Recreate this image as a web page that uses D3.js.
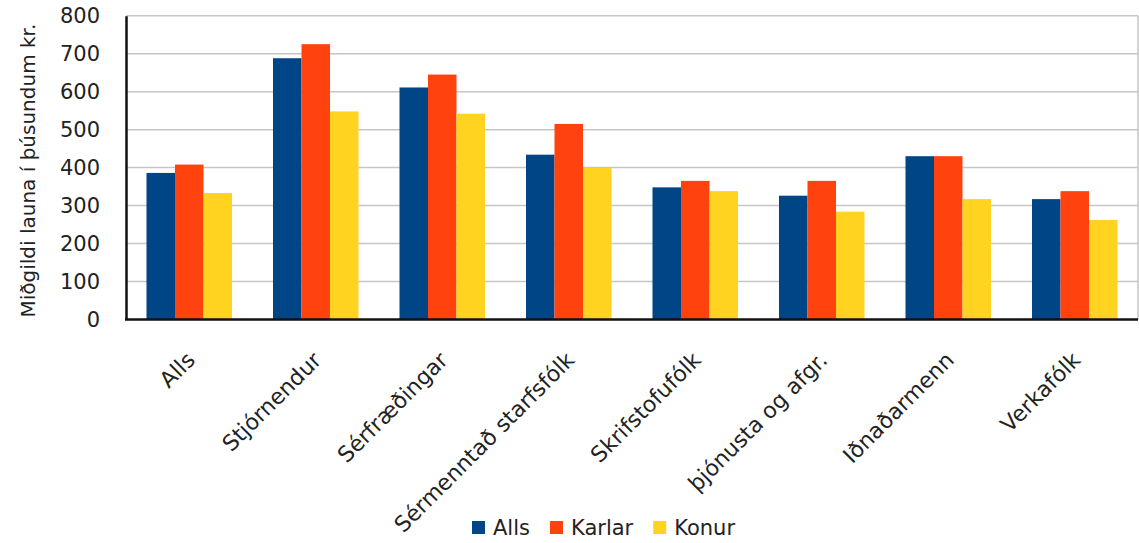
<!DOCTYPE html>
<html><head><meta charset="utf-8">
<script src="https://cdn.jsdelivr.net/npm/d3@7"></script>
<style>html,body{margin:0;padding:0;background:#fff;}svg{display:block;}</style>
</head><body><div id="chart"></div>
<script>
const categories = ["Alls","Stjórnendur","Sérfræðingar","Sérmenntað starfsfólk","Skrifstofufólk","þjónusta og afgr.","Iðnaðarmenn","Verkafólk"];
const seriesNames = ["Alls","Karlar","Konur"];
const allsValues   = [386, 688, 611, 434, 348, 326, 430, 317];
const karlarValues = [408, 725, 645, 515, 365, 365, 430, 338];
const konurValues  = [333, 548, 542, 399, 338, 284, 317, 262];
const seriesColors = ["#004586","#ff420e","#ffd320"];
const yTicks = [0,100,200,300,400,500,600,700,800];
const yTitle = "Miðgildi launa í þúsundum kr.";

const W = 1139, H = 543;
const mLeft = 126, mRight = 1138, mTop = 15.7, mBottom = 319.5;
const font = "'DejaVu Sans', sans-serif";
const textColor = "#222";

const svg = d3.select("#chart").append("svg").attr("width", W).attr("height", H);

const x = d3.scaleBand().domain(categories).range([mLeft, mRight]).paddingInner(0.324).paddingOuter(0.162);
const xs = d3.scaleBand().domain(seriesNames).range([0, x.bandwidth()]);
const y = d3.scaleLinear().domain([0, 800]).range([mBottom, mTop]);

// gridlines
svg.append("g").selectAll("line").data(yTicks.filter(d => d > 0)).join("line")
  .attr("x1", mLeft).attr("x2", mRight)
  .attr("y1", d => y(d)).attr("y2", d => y(d))
  .attr("stroke", "#c6c6c6").attr("stroke-width", 1.5);
// right border
svg.append("line").attr("x1", mRight).attr("x2", mRight).attr("y1", mTop).attr("y2", mBottom)
  .attr("stroke", "#c6c6c6").attr("stroke-width", 1.5);

const data = categories.map((c, i) => ({c, vals: [allsValues[i], karlarValues[i], konurValues[i]]}));
svg.append("g").selectAll("g").data(data).join("g")
  .attr("transform", d => `translate(${x(d.c)},0)`)
  .selectAll("rect").data(d => d.vals.map((v, j) => ({v, s: seriesNames[j], j}))).join("rect")
  .attr("x", d => xs(d.s)).attr("width", xs.bandwidth())
  .attr("y", d => y(d.v)).attr("height", d => y(0) - y(d.v))
  .attr("fill", d => seriesColors[d.j]);

// y axis
const yAxis = svg.append("g").attr("transform", `translate(${mLeft},0)`)
  .call(d3.axisLeft(y).tickValues(yTicks).tickSize(0).tickPadding(26));
yAxis.select(".domain").attr("stroke", "#111").attr("stroke-width", 2.5);
yAxis.selectAll("text").attr("font-family", font).attr("font-size", 21).attr("fill", textColor);

// x axis line
svg.append("line").attr("x1", mLeft - 1).attr("x2", mRight).attr("y1", mBottom).attr("y2", mBottom)
  .attr("stroke", "#111").attr("stroke-width", 2.5);

// x labels
svg.append("g").selectAll("text").data(categories).join("text")
  .attr("transform", d => `translate(${x(d) + x.bandwidth()/2 + 7},${mBottom + 42}) rotate(-45)`)
  .attr("text-anchor", "end")
  .attr("font-family", font).attr("font-size", 22).attr("fill", textColor)
  .text(d => d);

// y title
svg.append("text").attr("transform", `translate(35,${(mTop + mBottom)/2 + 3}) rotate(-90)`)
  .attr("text-anchor", "middle").attr("font-family", font).attr("font-size", 20).attr("fill", textColor)
  .text(yTitle);

// legend
const lg = svg.append("g");
let lx = 472;
seriesNames.forEach((s, i) => {
  lg.append("rect").attr("x", lx).attr("y", 521).attr("width", 13).attr("height", 13).attr("fill", seriesColors[i]);
  const t = lg.append("text").attr("x", lx + 21).attr("y", 535).attr("font-family", font).attr("font-size", 21)
    .attr("fill", textColor).text(s);
  lx = lx + 21 + t.node().getComputedTextLength() + 20;
});
</script></body></html>
